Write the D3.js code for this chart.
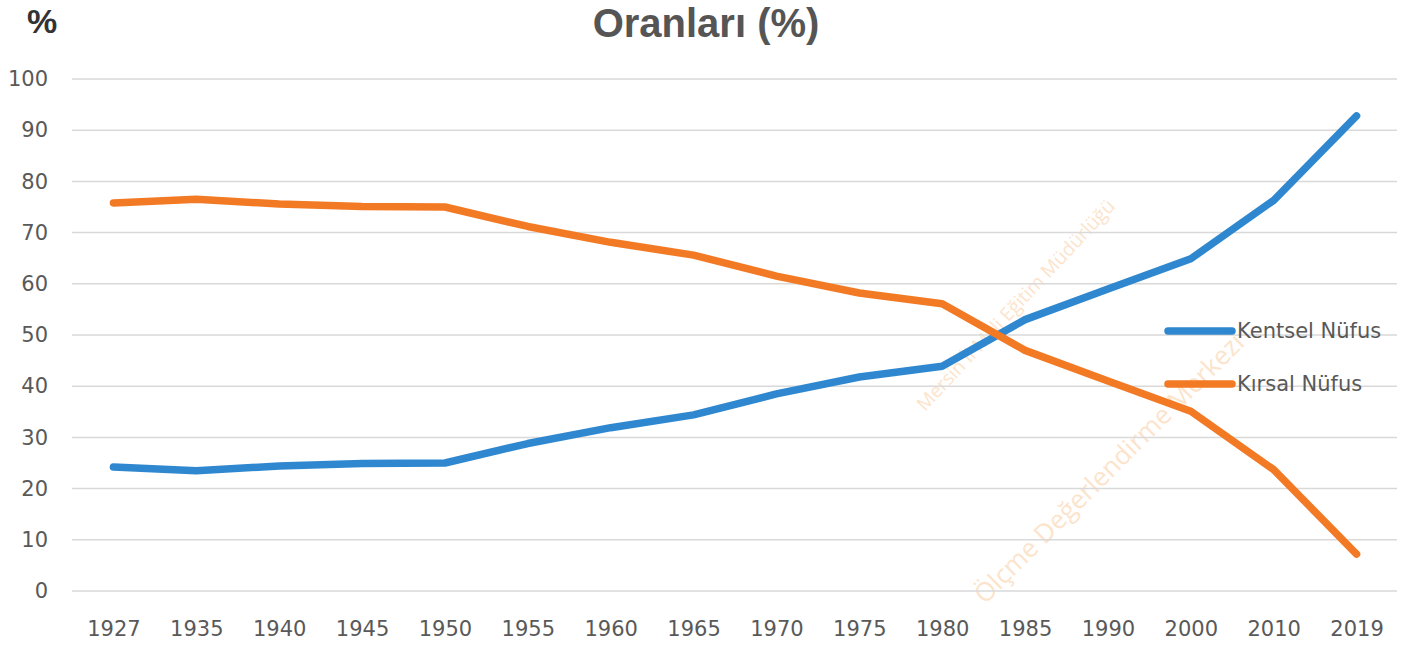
<!DOCTYPE html>
<html><head><meta charset="utf-8">
<script src="https://cdn.jsdelivr.net/npm/d3@7"></script>
<style>body{margin:0;background:#fff}svg{display:block}</style>
</head><body>
<script>
const years = ["1927","1935","1940","1945","1950","1955","1960","1965","1970","1975","1980","1985","1990","2000","2010","2019"];
const kentsel = [24.2,23.5,24.4,24.9,25.0,28.8,31.9,34.4,38.5,41.8,43.9,53.0,59.0,64.9,76.3,92.8];
const kirsal  = [75.8,76.5,75.6,75.1,75.0,71.2,68.1,65.6,61.5,58.2,56.1,47.0,41.0,35.1,23.7,7.2];
const yTicks = [0,10,20,30,40,50,60,70,80,90,100];
const seriesNames = ["Kentsel Nüfus","Kırsal Nüfus"];
const colors = ["#2F88CF","#F37A25"];

const W=1422,H=649;
const svg=d3.select("body").append("svg").attr("width",W).attr("height",H);
const font="'DejaVu Sans', sans-serif";
const tfont="'Open Sans', 'Noto Sans', sans-serif";
const hfont="'Liberation Sans', Arial, sans-serif";

const x=d3.scalePoint().domain(years).range([72,1398]).padding(0.5);
const y=d3.scaleLinear().domain([0,100]).range([591,79]);

// watermark (faint)
const wm=svg.append("g");
wm.append("text").attr("transform","translate(925,412) rotate(-47)").attr("font-family",tfont).attr("font-size",19).attr("fill","#FCE4CC").text("Mersin İl Milli Eğitim Müdürlüğü");
wm.append("text").attr("transform","translate(985,605) rotate(-45)").attr("font-family",tfont).attr("font-size",26).attr("fill","#FCE4CC").text("Ölçme Değerlendirme Merkezi");

// gridlines
svg.append("g").selectAll("line").data(yTicks).join("line")
 .attr("x1",72).attr("x2",1397).attr("y1",d=>y(d)).attr("y2",d=>y(d))
 .attr("stroke","#D9D9D9").attr("stroke-width",1.5);

// y axis
const ya=svg.append("g").attr("transform","translate(48,0)")
 .call(d3.axisLeft(y).tickValues(yTicks).tickSize(0).tickPadding(0));
ya.select(".domain").remove();
ya.selectAll("text").attr("font-family",font).attr("font-size",21).attr("fill","#595959");

// x axis
const xa=svg.append("g").attr("transform","translate(0,629)")
 .call(d3.axisBottom(x).tickSize(0).tickPadding(0));
xa.select(".domain").remove();
xa.selectAll("text").attr("font-family",font).attr("font-size",21).attr("fill","#595959").attr("dy","0.35em");

// lines
const line=d3.line().x((d,i)=>x(years[i])).y(d=>y(d));
[kentsel,kirsal].forEach((s,k)=>{
 svg.append("path").datum(s).attr("d",line).attr("fill","none")
  .attr("stroke",colors[k]).attr("stroke-width",7.5).attr("stroke-linejoin","round").attr("stroke-linecap","round");
});

// legend
const lg=svg.append("g");
seriesNames.forEach((n,k)=>{
 const ly=331+k*53;
 lg.append("line").attr("x1",1168).attr("x2",1232).attr("y1",ly).attr("y2",ly)
  .attr("stroke",colors[k]).attr("stroke-width",7.5).attr("stroke-linecap","round");
 lg.append("text").attr("x",1237).attr("y",ly).attr("dy","0.35em").attr("font-family",font)
  .attr("font-size",21).attr("fill","#595959").text(n);
});

// title and unit
svg.append("text").attr("x",706).attr("y",37).attr("text-anchor","middle").attr("font-family",hfont)
 .attr("font-size",40).attr("font-weight","bold").attr("fill","#555555").text("Oranları (%)");
svg.append("text").attr("x",42).attr("y",33).attr("text-anchor","middle").attr("font-family",hfont)
 .attr("font-size",34).attr("font-weight","bold").attr("fill","#333333").text("%");
</script>
</body></html>
